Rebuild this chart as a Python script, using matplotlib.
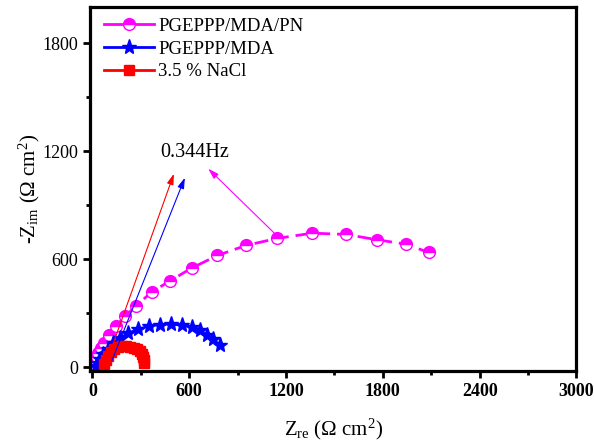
import matplotlib
matplotlib.use('Agg')
import matplotlib.pyplot as plt
from matplotlib.lines import Line2D

plt.rcParams['font.family'] = ['Liberation Serif', 'DejaVu Serif']
plt.rcParams['mathtext.fontset'] = 'custom'
plt.rcParams['mathtext.rm'] = 'Liberation Serif'
plt.rcParams['mathtext.it'] = 'Liberation Serif:italic'

# PGEPPP/MDA/PN
pn_x = [9, 16, 26, 36, 51, 73, 102, 144, 201, 270, 367, 480, 615, 775, 952,
        1146, 1363, 1572, 1766, 1942, 2084]
pn_y = [17, 29, 56, 78, 106, 135, 178, 228, 283, 341, 419, 480, 552, 622, 678,
        717, 746, 739, 709, 685, 639]

# PGEPPP/MDA
mda_x = [20, 32, 46, 67, 98, 129, 170, 222, 284, 350, 418, 487, 553, 615, 666,
         708, 749, 790]
mda_y = [7, 24, 48, 76, 104, 135, 165, 191, 215, 229, 237, 239, 233, 224, 206,
         182, 156, 126]

# 3.5 % NaCl
nacl_x = [71, 84, 96, 115, 133, 158, 183, 208, 232, 257, 276, 294, 307, 313,
          319, 322]
nacl_y = [17, 39, 61, 83, 100, 111, 117, 117, 114, 108, 100, 89, 72, 56, 39, 22]

labels = ['PGEPPP/MDA/PN', 'PGEPPP/MDA', '3.5 % NaCl']

fig = plt.figure(figsize=(5.94, 4.41), dpi=100)
ax = fig.add_axes([0.1515, 0.1587, 0.819, 0.8243])

ax.plot(pn_x, pn_y, color='magenta', lw=2, dashes=(5, 2.5), marker='o', ms=8.5,
        fillstyle='top', mfc='magenta', mfcalt='white', mec='magenta', mew=1)
ax.plot(mda_x, mda_y, color='blue', lw=1.5, marker='*', ms=11, mfc='blue', mec='blue')
ax.plot(nacl_x, nacl_y, color='red', lw=1.5, marker='s', ms=7, mfc='red', mec='red')

# 0.344 Hz arrows
arr = [((96, 50), (505, 1076), 'red'),
       ((121, 39), (573, 1054), 'blue'),
       ((1131, 743), (718, 1104), 'magenta')]
for tail, tip, c in arr:
    ax.annotate('', xy=tip, xytext=tail,
                arrowprops=dict(arrowstyle='-|>,head_width=0.25,head_length=0.8',
                                color=c, lw=0.8, mutation_scale=8,
                                shrinkA=0, shrinkB=0),
                zorder=10)
ax.text(632, 1194, '0.344Hz', fontsize=14.5, ha='center', va='center')

ax.set_xlim(-15, 3000)
ax.set_ylim(-20, 2000)
ax.set_xticks([0, 600, 1200, 1800, 2400, 3000])
ax.set_xticks([300, 900, 1500, 2100, 2700], minor=True)
ax.set_yticks([0, 600, 1200, 1800])
ax.set_yticks([300, 900, 1500], minor=True)
for s in ax.spines.values():
    s.set_linewidth(2.3)
ax.tick_params(which='major', direction='out', length=5, width=2, labelsize=13)
ax.tick_params(which='minor', direction='out', length=3, width=2)
for t in ax.get_xticklabels():
    t.set_fontweight('bold')

ax.set_xlabel(r'Z$_{\rm re}$ ($\Omega$ cm$^2$)', fontsize=15, labelpad=12)
ax.set_ylabel(r'-Z$_{\rm im}$ ($\Omega$ cm$^2$)', fontsize=15, labelpad=0)

handles = [
    Line2D([], [], color='magenta', lw=2, marker='o', ms=8.5, fillstyle='top',
           mfc='magenta', mfcalt='white', mec='magenta'),
    Line2D([], [], color='blue', lw=2, marker='*', ms=11, mfc='blue', mec='blue'),
    Line2D([], [], color='red', lw=2, marker='s', ms=7, mfc='red', mec='red'),
]
ax.legend(handles, labels, loc='upper left', frameon=False, fontsize=13.5,
          handlelength=2.7, handletextpad=0.2, labelspacing=0.3,
          bbox_to_anchor=(0.005, 1.003), borderaxespad=0.2)

fig.savefig('out.png', dpi=100, facecolor='white')
